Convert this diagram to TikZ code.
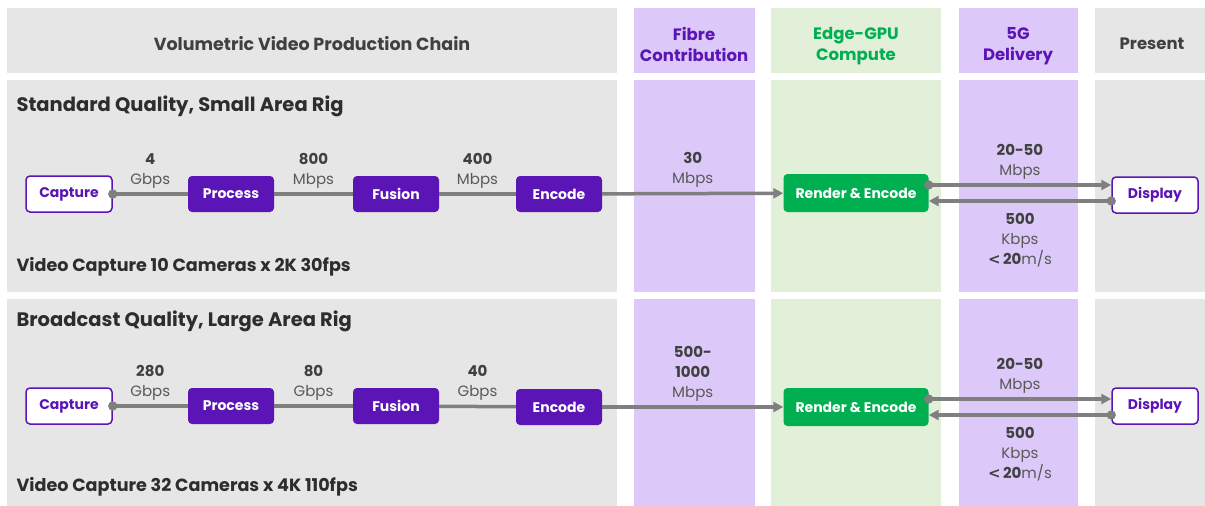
\documentclass[tikz,border=0pt]{standalone}
\usepackage{fontspec}
\setmainfont{Poppins}
\newfontfamily\signfont{DejaVu Sans}
\usepackage{xcolor}
\usetikzlibrary{arrows.meta}

\definecolor{cellgray}{HTML}{E6E6E6}
\definecolor{celllilac}{HTML}{DCC9F9}
\definecolor{cellmint}{HTML}{E2EFD9}
\definecolor{chainpurple}{HTML}{5B14B5}
\definecolor{rendergreen}{HTML}{00B050}
\definecolor{headgray}{HTML}{404040}
\definecolor{unitgray}{HTML}{595959}
\definecolor{linkgray}{HTML}{7F7F7F}

\newcommand{\latency}{{\signfont\bfseries <}\,\textbf{20}{\color{unitgray}m/s}}

\begin{document}
\begin{tikzpicture}[x=1pt, y=-1pt,
  headtext/.style={align=center, font=\bfseries\fontsize{16.5}{21}\selectfont},
  stage/.style={rounded corners=4pt, fill=chainpurple, text=white, minimum width=86pt, minimum height=36pt, inner sep=0pt, font=\bfseries\fontsize{14}{16}\selectfont},
  endpoint/.style={stage, fill=white, draw=chainpurple, line width=1.5pt, text=chainpurple},
  renderbox/.style={stage, fill=rendergreen, minimum width=145pt, minimum height=38pt},
  link/.style={draw=linkgray, line width=3.5pt},
  rate/.style={align=center, text=headgray, inner sep=1pt, font=\fontsize{15}{20}\selectfont},
  rowtitle/.style={anchor=west, text=headgray!70!black, font=\bfseries\fontsize{19.5}{22}\selectfont},
  rignote/.style={anchor=west, text=headgray!70!black, font=\bfseries\fontsize{17.6}{20}\selectfont},
  dot/.style={{Circle[length=9pt]}-, shorten <=-4.5pt},
  tip/.style={-{Triangle[length=10pt,width=10pt]}},
  dottip/.style={{Circle[length=9pt]}-{Triangle[length=10pt,width=10pt]}, shorten <=-4.5pt}
]
  \useasboundingbox (0,0) rectangle (1205,506);
  \fill[white] (0,0) rectangle (1205,506);

  \fill[cellgray] (7,8) rectangle (617,73);
  \fill[celllilac] (634,8) rectangle (755,73);
  \fill[cellmint] (771,8) rectangle (941,73);
  \fill[celllilac] (959,8) rectangle (1078,73);
  \fill[cellgray] (1095,8) rectangle (1205,73);

  \fill[cellgray] (7,80) rectangle (617,292);
  \fill[celllilac] (634,80) rectangle (755,292);
  \fill[cellmint] (771,80) rectangle (941,292);
  \fill[celllilac] (959,80) rectangle (1078,292);
  \fill[cellgray] (1095,80) rectangle (1205,292);

  \fill[cellgray] (7,299) rectangle (617,506);
  \fill[celllilac] (634,299) rectangle (755,506);
  \fill[cellmint] (771,299) rectangle (941,506);
  \fill[celllilac] (959,299) rectangle (1078,506);
  \fill[cellgray] (1095,299) rectangle (1205,506);

  \node[headtext, text=headgray, font=\bfseries\fontsize{17.5}{21}\selectfont] (chainhead) at (312,44) {Volumetric Video Production Chain};
  \node[headtext, text=chainpurple] (fibrehead) at (694,44) {Fibre\\Contribution};
  \node[headtext, text=rendergreen] (edgehead) at (856,46) {Edge-GPU\\Compute};
  \node[headtext, text=chainpurple] (fiveghead) at (1018,46) {5G\\Delivery};
  \node[headtext, text=headgray] (presenthead) at (1152,44) {Present};

  % standard quality rig
  \node[rowtitle] (title1) at (13,106) {Standard Quality, Small Area Rig};
  \node[rignote] (note1) at (13,267) {Video Capture 10 Cameras x 2K 30fps};
  \node[endpoint] (cap1) at (69,194) {Capture};
  \node[stage] (pro1) at (231,194) {Process};
  \node[stage] (fus1) at (396,194) {Fusion};
  \node[stage] (enc1) at (559,194) {Encode};
  \node[renderbox] (ren1) at (856,193) {Render \& Encode};
  \node[endpoint] (dis1) at (1155,195) {Display};

  \draw[link, dot] (cap1) -- node[rate, above=3pt] {\textbf{4}\\{\color{unitgray}Gbps}} (pro1);
  \draw[link] (pro1) -- node[rate, above=3pt] {\textbf{800}\\{\color{unitgray}Mbps}} (fus1);
  \draw[link] (fus1) -- node[rate, above=3pt] {\textbf{400}\\{\color{unitgray}Mbps}} (enc1);
  \draw[link, tip] (enc1) -- node[rate, above=3pt] {\textbf{30}\\{\color{unitgray}Mbps}} (ren1);
  \draw[link, dottip] ([yshift=8pt]ren1.east) -- node[rate, above=3pt] {\textbf{20-50}\\{\color{unitgray}Mbps}} ([yshift=8pt]ren1.east -| dis1.west);
  \draw[link, dottip] ([yshift=-8pt]ren1.east -| dis1.west) -- node[rate, below=10pt] {\textbf{500}\\{\color{unitgray}Kbps}\\\latency} ([yshift=-8pt]ren1.east);

  % broadcast quality rig
  \node[rowtitle] (title2) at (13,321) {Broadcast Quality, Large Area Rig};
  \node[rignote] (note2) at (13,487) {Video Capture 32 Cameras x 4K 110fps};
  \node[endpoint] (cap2) at (69,406) {Capture};
  \node[stage] (pro2) at (231,406) {Process};
  \node[stage] (fus2) at (396,406) {Fusion};
  \node[stage] (enc2) at (559,407) {Encode};
  \node[renderbox] (ren2) at (856,407) {Render \& Encode};
  \node[endpoint] (dis2) at (1155,406) {Display};

  \draw[link, dot] (cap2) -- node[rate, above=3pt] {\textbf{280}\\{\color{unitgray}Gbps}} (pro2);
  \draw[link] (pro2) -- node[rate, above=3pt] {\textbf{80}\\{\color{unitgray}Gbps}} (fus2);
  \draw[link] (fus2) -- node[rate, above=3pt] {\textbf{40}\\{\color{unitgray}Gbps}} (enc2);
  \draw[link, tip] (enc2) -- node[rate, above=3pt] {\textbf{500-}\\\textbf{1000}\\{\color{unitgray}Mbps}} (ren2);
  \draw[link, dottip] ([yshift=8pt]ren2.east) -- node[rate, above=3pt] {\textbf{20-50}\\{\color{unitgray}Mbps}} ([yshift=8pt]ren2.east -| dis2.west);
  \draw[link, dottip] ([yshift=-8pt]ren2.east -| dis2.west) -- node[rate, below=10pt] {\textbf{500}\\{\color{unitgray}Kbps}\\\latency} ([yshift=-8pt]ren2.east);
\end{tikzpicture}
\end{document}
